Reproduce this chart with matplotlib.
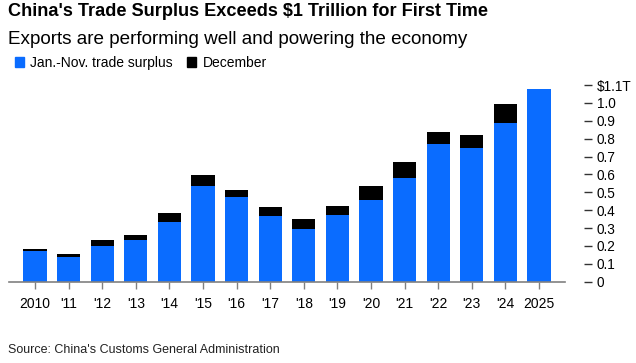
import numpy as np
import matplotlib
matplotlib.use("Agg")
from matplotlib import pyplot as plt
from matplotlib.patches import Patch

plt.rcParams["font.family"] = ["Liberation Sans", "DejaVu Sans"]

years = ["2010", "'11", "'12", "'13", "'14", "'15", "'16", "'17", "'18", "'19",
         "'20", "'21", "'22", "'23", "'24", "2025"]
jan_nov = [0.172, 0.138, 0.200, 0.233, 0.332, 0.535, 0.472, 0.368, 0.295, 0.375,
           0.459, 0.579, 0.771, 0.748, 0.890, 1.077]
december = [0.011, 0.017, 0.032, 0.028, 0.051, 0.060, 0.039, 0.052, 0.056, 0.049,
            0.077, 0.093, 0.067, 0.075, 0.104, 0.0]
y_ticks = [0, 0.1, 0.2, 0.3, 0.4, 0.5, 0.6, 0.7, 0.8, 0.9, 1.0, 1.1]
y_labels = ["0", "0.1", "0.2", "0.3", "0.4", "0.5", "0.6", "0.7", "0.8", "0.9", "1.0", "$1.1T"]

blue = "#0a6cff"
black = "#000000"

fig = plt.figure(figsize=(6.36, 3.63), dpi=100)
ax = fig.add_axes([9 / 636, 1 - 281.7 / 363, (565 - 9) / 636, (281.7 - 85.1) / 363])

x = np.arange(len(years))
ax.bar(x, jan_nov, width=0.69, color=blue, zorder=2)
ax.bar(x, december, width=0.69, bottom=jan_nov, color=black, zorder=2)

ax.set_xlim(-0.774, len(years) - 1 + 0.774)
ax.set_ylim(0, 1.1)

for s in ["top", "left"]:
    ax.spines[s].set_visible(False)
ax.spines["bottom"].set_color("#808080")
ax.spines["bottom"].set_linewidth(1.2)
ax.spines["right"].set_visible(False)
ax.spines["right"].set_position(("outward", 14))

ax.set_xticks(x)
ax.set_xticklabels(years, fontsize=10)
ax.tick_params(axis="x", length=5, width=1, color="#808080", pad=6)

ax.yaxis.tick_right()
ax.set_yticks(y_ticks)
ax.set_yticklabels(y_labels, fontsize=9.8)
ax.tick_params(axis="y", length=6, width=1, color="#333333", pad=3)

fig.text(8 / 636, 1 - 12 / 363, "China's Trade Surplus Exceeds $1 Trillion for First Time",
         fontsize=13.1, fontweight="bold", va="center", ha="left")
fig.text(8 / 636, 1 - 39 / 363, "Exports are performing well and powering the economy",
         fontsize=13.6, va="center", ha="left")

handles = [Patch(color=blue, label="Jan.-Nov. trade surplus"),
           Patch(color=black, label="December")]
fig.legend(handles=handles, loc="center left", bbox_to_anchor=(2 / 636, 1 - 63 / 363),
           ncol=2, frameon=False, fontsize=10, handlelength=0.65, handleheight=0.65,
           handletextpad=0.5, columnspacing=1.0)

fig.text(8 / 636, 1 - 350 / 363, "Source: China's Customs General Administration",
         fontsize=9, va="center", ha="left", color="#222222")

fig.savefig("out.png", dpi=100)
